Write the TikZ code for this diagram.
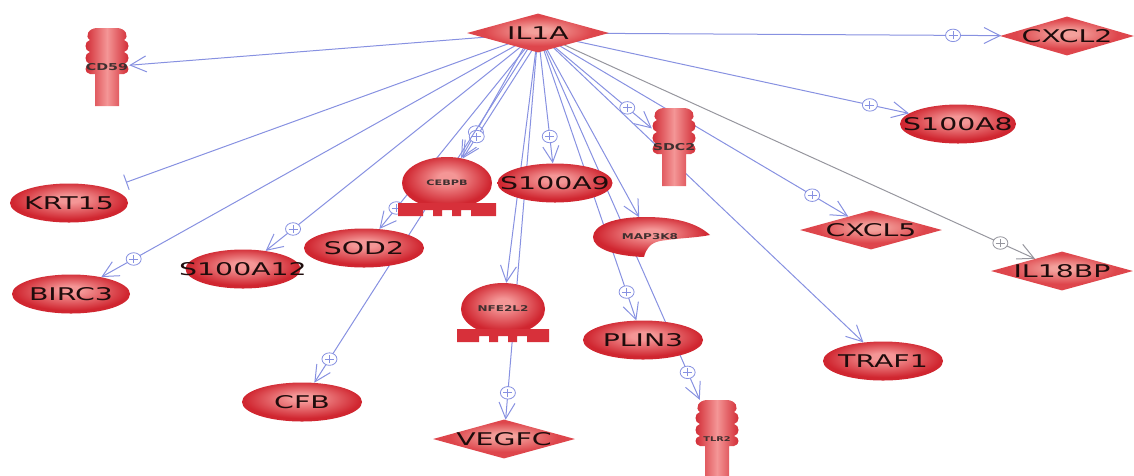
\documentclass[tikz,border=0pt]{standalone}
\usepackage{fontspec}
\setmainfont{DejaVu Sans}
\newfontfamily\labfont[FakeStretch=1.62]{DejaVu Sans}
\newfontfamily\smlfont[FakeStretch=1.5]{DejaVu Sans Bold}
\usetikzlibrary{shapes.geometric,arrows.meta,decorations.markings}
\pgfdeclarelayer{bg}
\pgfsetlayers{bg,main}
\definecolor{edgec}{RGB}{135,145,225}
\definecolor{greyc}{RGB}{150,150,158}
\definecolor{rout}{RGB}{208,38,48}
\definecolor{rin}{RGB}{244,150,150}
\definecolor{dout}{RGB}{222,70,76}
\definecolor{din}{RGB}{243,160,155}
\definecolor{bcol}{RGB}{215,48,58}
\definecolor{txt}{RGB}{30,12,12}
\pgfdeclareradialshading{gshade}{\pgfpoint{0bp}{6bp}}{color(0bp)=(rin); color(5bp)=(rin); color(24bp)=(rout); color(50bp)=(rout)}
\pgfdeclareradialshading{dshade}{\pgfpoint{0bp}{4bp}}{color(0bp)=(din); color(4bp)=(din); color(19bp)=(dout); color(50bp)=(dout)}
\newcommand\receptor[4]{%
  \shade[left color=rout, right color=rout, middle color=rin, shift={(#2,#3)}]
    (-12,78) -- (-12,46) -- (-17,46)
    .. controls (-23,45) and (-23,37) .. (-17,36)
    .. controls (-23,35) and (-23,25) .. (-17,24)
    .. controls (-23,23) and (-23,13) .. (-17,12)
    .. controls (-23,8) and (-18,0) .. (-10,0)
    -- (10,0)
    .. controls (18,0) and (23,8) .. (17,12)
    .. controls (23,13) and (23,23) .. (17,24)
    .. controls (23,25) and (23,35) .. (17,36)
    .. controls (23,37) and (23,45) .. (17,46)
    -- (12,46) -- (12,78) -- cycle;
  \node[minimum width=44pt, minimum height=78pt, inner sep=0pt, sml=#4] (#1) at ({#2},{#3+39}) {#1};
}
% name, x, y, font size, half width
\newcommand\treg[5]{%
  \node[ellipse, minimum width={2*#5}, minimum height=52pt, inner sep=0pt, shade, shading=gshade, sml=#4] (#1) at (#2,#3) {#1};
  \fill[bcol, shift={(#2,#3)}] ({-#5-4},20) -- ({#5+4},20) -- ({#5+4},33) -- (24,33) -- (24,27) -- (14,27) -- (14,33) -- (5,33) -- (5,27) -- (-5,27) -- (-5,33) -- (-14,33) -- (-14,27) -- (-24,27) -- (-24,33) -- ({-#5-4},33) -- cycle;
}
\begin{document}
\begin{tikzpicture}[x=1pt,y=-1pt,
  lab/.style={text=txt, font=\labfont\fontsize{17.5}{18}\selectfont},
  gene/.style={ellipse, minimum width=120pt, minimum height=39pt, inner sep=0pt, shade, shading=gshade, lab},
  cyt/.style={diamond, minimum width=142pt, minimum height=39pt, inner sep=0pt, shade, shading=dshade, lab},
  sml/.style={text=txt!85, font=\smlfont\fontsize{#1}{#1}\selectfont},
  edge/.style={draw=edgec, line width=1pt, -{Straight Barb[length=16pt,width=16pt]}},
  gedge/.style={draw=greyc, line width=1pt, -{Straight Barb[length=16pt,width=16pt]}},
  inhib/.style={draw=edgec, line width=1pt, -{Bar[width=16pt]}, shorten >=18pt},
  pluscirc/.style={ellipse, draw=#1, fill=white, line width=0.8pt, minimum width=15pt, minimum height=12.5pt, inner sep=0pt,
    path picture={\draw[#1, line width=0.8pt, -] ([xshift=-4.5pt]path picture bounding box.center) -- ([xshift=4.5pt]path picture bounding box.center)
      ([yshift=-4pt]path picture bounding box.center) -- ([yshift=4pt]path picture bounding box.center);}},
  pl/.style args={#1 at #2}{postaction={decorate, decoration={markings, mark=at position -#2 with {\node[pluscirc=edgec] (#1) {};}}}},
  plg/.style args={#1 at #2}{postaction={decorate, decoration={markings, mark=at position -#2 with {\node[pluscirc=greyc] (#1) {};}}}}
]
\useasboundingbox (0,0) rectangle (1134,475);

% genes / cytokines
\node[cyt] (IL1A) at (538,33) {\makebox[0pt]{IL1A}};
\node[cyt, minimum width=134pt] (CXCL2) at (1067,36) {\makebox[0pt]{CXCL2}};
\node[cyt] (CXCL5) at (871,230) {\makebox[0pt]{CXCL5}};
\node[cyt] (IL18BP) at (1062,271) {\makebox[0pt]{IL18BP}};
\node[cyt] (VEGFC) at (504,439) {\makebox[0pt]{VEGFC}};

\node[gene, minimum width=116pt] (S100A8) at (958,124) {\makebox[0pt]{S100A8}};
\node[gene, minimum width=115pt] (S100A9) at (555,183) {\makebox[0pt]{S100A9}};
\node[gene, minimum width=118pt] (KRT15) at (69,203) {\makebox[0pt]{KRT15}};
\node[gene, minimum width=118pt] (BIRC3) at (71,294) {\makebox[0pt]{BIRC3}};
\node[gene] (SOD2) at (364,248) {\makebox[0pt]{SOD2}};
\node[gene, minimum width=115pt] (S100A12) at (243,269) {\makebox[0pt]{S100A12}};
\node[gene] (CFB) at (302,402) {\makebox[0pt]{CFB}};
\node[gene] (PLIN3) at (643,340) {\makebox[0pt]{PLIN3}};
\node[gene] (TRAF1) at (883,361) {\makebox[0pt]{TRAF1}};

% receptors
\receptor{CD59}{107}{28}{9.5}
\receptor{SDC2}{674}{108}{9.5}
\receptor{TLR2}{717}{400}{6.5}

% transcription regulators
\treg{CEBPB}{447}{183}{7.5}{45}
\treg{NFE2L2}{503}{309}{8}{42}

% kinase
\shade[shading=gshade, shift={(650,237)}]
  (60,-2) .. controls (45,-16) and (20,-20) .. (-5,-20)
  .. controls (-35,-20) and (-57,-12) .. (-57,0)
  .. controls (-57,12) and (-35,19) .. (-6,20)
  .. controls (-4,12) and (0,6) .. (10,4)
  .. controls (28,1) and (45,1) .. (60,-2) -- cycle;
\node[minimum width=117pt, minimum height=39pt, inner sep=0pt, sml=8] (MAP3K8) at (650,237) {MAP3K8};

\begin{pgfonlayer}{bg}
\draw[edge] (IL1A.center) -- (CD59);
\draw[edge, pl=pa at 48pt] (IL1A.center) -- (CXCL2);
\draw[edge, pl=pb at 40pt] (IL1A.center) -- (S100A8);
\draw[edge, pl=pc at 32pt] (IL1A.center) -- (SDC2);
\draw[edge, pl=pd at 42pt] (IL1A.center) -- (CXCL5);
\draw[gedge, plg=pe at 38pt] (IL1A.center) -- (IL18BP);
\draw[inhib] (IL1A.center) -- (KRT15);
\draw[edge, pl=pf at 37pt] (IL1A.center) -- (BIRC3);
\draw[edge, pl=pg at 35pt] (IL1A.center) -- (S100A12);
\draw[edge, pl=ph at 30pt] ([xshift=-6pt]IL1A.center) -- (CEBPB);
\draw[edge, pl=pi at 26pt] ([xshift=5pt]IL1A.center) -- (CEBPB);
\draw[edge, pl=pj at 27pt] (IL1A.center) -- (SOD2);
\draw[edge, pl=pk at 28pt] (IL1A.center) -- (CFB);
\draw[edge, pl=pl1 at 27pt] (IL1A.center) -- (S100A9);
\draw[edge] (IL1A.center) -- (NFE2L2);
\draw[edge, pl=pm at 27pt] (IL1A.center) -- (VEGFC);
\draw[edge] (IL1A.center) -- (MAP3K8);
\draw[edge, pl=pn at 30pt] (IL1A.center) -- (PLIN3);
\draw[edge, pl=po at 30pt] (IL1A.center) -- (TLR2);
\draw[edge] (IL1A.center) -- (TRAF1);
\end{pgfonlayer}
\end{tikzpicture}
\end{document}
